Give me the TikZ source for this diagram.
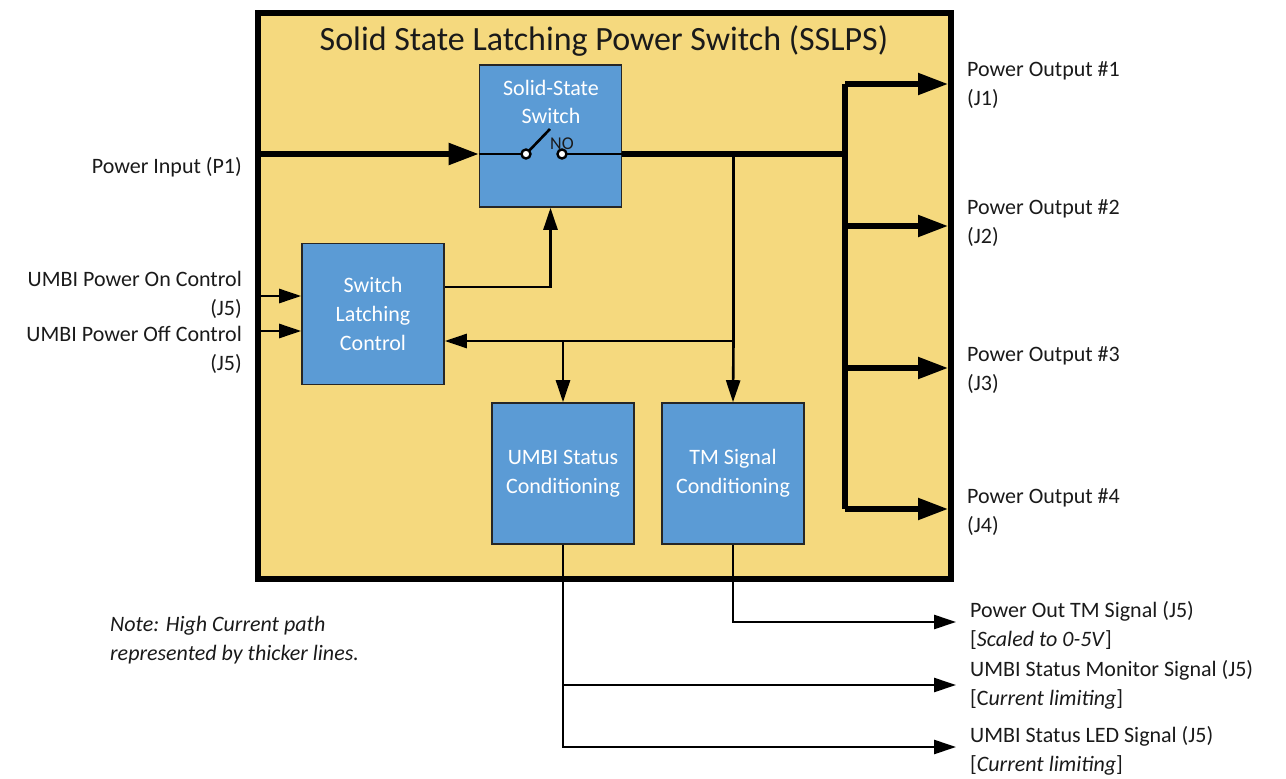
\documentclass[tikz,border=0pt]{standalone}
\usepackage{fontspec}
\setmainfont{Carlito}
\usetikzlibrary{arrows.meta}
\definecolor{outerfill}{HTML}{F5D97E}
\definecolor{blockfill}{HTML}{5B9BD5}
\definecolor{txt}{HTML}{1A1A1A}
\tikzset{
  x=1pt,y=-1pt,
  block/.style={draw=black!85,line width=1.6pt,fill=blockfill,text=white,minimum width=142pt,minimum height=141pt,inner sep=0pt,align=center,font=\fontsize{22}{29}\selectfont},
  outerbox/.style={draw=black,line width=6pt,fill=outerfill,minimum width=693pt,minimum height=566pt,inner sep=0pt},
  lab/.style={inner sep=0pt,text=txt,font=\fontsize{22}{29}\selectfont},
  thin line/.style={draw=black,line width=2.6pt},
  thick line/.style={draw=black,line width=5.2pt},
  thinarrow/.style={thin line,-{Triangle[length=22pt,width=14pt]},shorten >=0pt},
  thickarrow/.style={thick line,-{Triangle[length=30pt,width=21pt]}},
  contact/.style={circle,draw=black,fill=white,line width=2.4pt,minimum size=9pt,inner sep=0pt},
}
\begin{document}
\begin{tikzpicture}
\useasboundingbox (0,0) rectangle (1286,779);
\node[outerbox] (outer) at (604,296) {};
\node[font=\fontsize{34}{40}\selectfont,text=txt,inner sep=0pt] (title) at (604,41) {Solid State Latching Power Switch (SSLPS)};
\node[block,minimum height=142pt] (sw) at (550.5,136) {};
\node[text=white,align=center,inner sep=0pt,font=\fontsize{22}{28}\selectfont] (swlab) at (551,102) {Solid-State\\Switch};
\node[block] (latch) at (373,314) {Switch\\Latching\\Control};
\node[block] (umbi) at (563,473.5) {UMBI Status\\Conditioning};
\node[block] (tm) at (733,473.5) {TM Signal\\Conditioning};

% named free ends
\coordinate (pin) at (259,154);
\coordinate (swin) at (sw.west |- pin);
\coordinate (cl) at (526,154);
\coordinate (cr) at (562,154);
\coordinate (blade) at (550,129);
\coordinate (swout) at (sw.east |- pin);
\coordinate (bus) at (845,154);
\coordinate (o1) at (948,84);
\coordinate (o2) at (948,226);
\coordinate (o3) at (948,368);
\coordinate (o4) at (948,509);
\coordinate (tap) at (733.5,154);
\coordinate (lon) at (259,296);
\coordinate (loff) at (259,331);
\coordinate (lj) at (733.5,341);
\coordinate (uj) at (563,341);
\coordinate (oa) at (956,622);
\coordinate (ob) at (956,685);
\coordinate (oc) at (956,747);

% high current
\draw[thickarrow] (pin) -- (swin);
\draw[thick line] (swout) -- (bus);
\draw[thick line,line join=miter] (bus |- o1) -- (bus |- o4);
\draw[thickarrow] (bus |- o1) -- (o1);
\draw[thickarrow] (bus |- o2) -- (o2);
\draw[thickarrow] (bus |- o3) -- (o3);
\draw[thickarrow] (bus |- o4) -- (o4);

% switch contacts
\draw[draw=black,line width=2.6pt] (swin) -- (cl);
\draw[draw=black,line width=2.6pt] (cr) -- (swout);
\draw[draw=black,line width=2.6pt] (cl) -- (blade);
\node[contact] (c1) at (cl) {};
\node[contact] (c2) at (cr) {};
\node[inner sep=0pt,text=txt,font=\fontsize{18}{20}\selectfont] (no) at (562,144) {NO};

% signals
\draw[thinarrow] (latch.east |- 0,287) -| (sw.south);
\draw[thin line] (tap) -- (lj);
\draw[thinarrow] (lj) -- (latch.east |- lj);
\draw[thinarrow] (uj) -- (umbi.north);
\draw[thinarrow] (lj) -- (tm.north);
\draw[thinarrow] (lon) -- (latch.west |- lon);
\draw[thinarrow] (loff) -- (latch.west |- loff);
\draw[thinarrow] (tm.south) |- (oa);
\draw[thinarrow] (umbi.south) |- (ob);
\draw[thinarrow] (umbi.south) |- (oc);

% labels
\node[lab,anchor=east] (lp) at (242,167) {Power Input (P1)};
\node[lab,anchor=east,align=right] (lon1) at (242,294.5) {UMBI Power On Control\\(J5)};
\node[lab,anchor=east,align=right] (loff1) at (242,350) {UMBI Power Off Control\\(J5)};
\node[lab,anchor=west,align=left] (l1) at (967,85.5) {Power Output \#1\\(J1)};
\node[lab,anchor=west,align=left] (l2) at (967,223) {Power Output \#2\\(J2)};
\node[lab,anchor=west,align=left] (l3) at (967,370) {Power Output \#3\\(J3)};
\node[lab,anchor=west,align=left] (l4) at (967,512) {Power Output \#4\\(J4)};
\node[lab,anchor=west,align=left] (la) at (970,625) {Power Out TM Signal (J5)\\{[}\textit{Scaled to 0-5V}{]}};
\node[lab,anchor=west,align=left] (lb) at (970,685) {UMBI Status Monitor Signal (J5)\\{[}C\textit{urrent limiting}{]}};
\node[lab,anchor=west,align=left] (lc) at (970,751) {UMBI Status LED Signal (J5)\\{[}\textit{Current limiting}{]}};
\node[lab,anchor=west,align=left,font=\itshape\fontsize{22}{29}\selectfont] (note) at (110,640) {Note: High Current path\\represented by thicker lines.};
\end{tikzpicture}
\end{document}
